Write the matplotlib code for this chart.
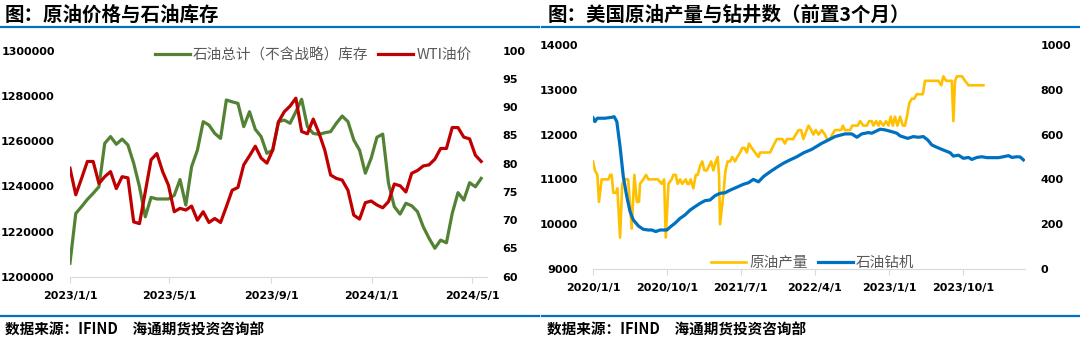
import pandas as pd
import matplotlib.pyplot as plt
from matplotlib.lines import Line2D
from matplotlib.ticker import FuncFormatter

plt.rcParams['font.family'] = ['Noto Sans CJK SC', 'DejaVu Sans']

# ---- left panel: weekly US commercial crude stocks vs WTI ----
inv_start = '2023-01-01'
inv = [1206000, 1228000, 1231000, 1234200, 1236900, 1239800, 1259000, 1262000, 1258600, 1260900,
       1258300, 1250200, 1239800, 1226500, 1235100, 1234400, 1234400, 1234400, 1236000, 1243000,
       1231700, 1248700, 1256000, 1268600, 1267100, 1263400, 1261200, 1278200, 1277400, 1276700,
       1266400, 1273000, 1265200, 1262000, 1254600, 1256000, 1268600, 1269300, 1267900, 1273000,
       1278500, 1266400, 1263400, 1263000, 1263700, 1264200, 1267900, 1271100, 1268600, 1260500,
       1256000, 1245800, 1252400, 1261700, 1263100, 1241300, 1231000, 1227700, 1232500, 1231400,
       1228800, 1222100, 1217000, 1212600, 1216200, 1215000, 1228000, 1237200, 1233900, 1241600,
       1239800, 1243500]
wti = [79.2, 74.5, 77.4, 80.4, 80.4, 76.5, 77.7, 78.6, 75.6, 77.7,
       77.5, 69.7, 69.4, 75.0, 80.7, 81.8, 78.6, 76.2, 71.5, 72.1,
       71.8, 72.5, 70.0, 71.5, 69.6, 70.3, 69.6, 72.4, 75.3, 75.8,
       79.8, 81.4, 83.1, 81.0, 80.1, 82.4, 87.4, 89.2, 90.2, 91.6,
       85.7, 85.3, 87.9, 85.4, 82.4, 78.0, 77.4, 77.1, 75.3, 70.9,
       70.2, 73.1, 73.4, 72.7, 72.2, 73.3, 76.4, 76.1, 75.0, 78.3,
       78.8, 79.6, 79.8, 80.8, 82.7, 82.7, 86.4, 86.4, 84.7, 84.4,
       81.5, 80.4]
left_ticks = ['2023-01-01', '2023-05-01', '2023-09-01', '2024-01-01', '2024-05-01']
left_ticklabels = ['2023/1/1', '2023/5/1', '2023/9/1', '2024/1/1', '2024/5/1']

# ---- right panel: US crude output vs oil rigs (rigs shifted 3 months) ----
prod_dates = ['2020-01-01', '2020-01-08', '2020-01-17', '2020-01-23', '2020-02-02', '2020-02-27',
              '2020-03-04', '2020-03-10', '2020-03-16', '2020-03-26', '2020-03-31', '2020-04-10',
              '2020-04-18', '2020-04-28', '2020-05-10', '2020-05-23', '2020-06-02', '2020-06-11',
              '2020-06-19', '2020-06-23', '2020-07-05', '2020-07-15', '2020-07-24', '2020-08-10',
              '2020-08-28', '2020-09-11', '2020-09-20', '2020-09-26', '2020-10-06', '2020-10-18',
              '2020-10-24', '2020-11-02', '2020-11-09', '2020-11-18', '2020-11-26', '2020-12-09',
              '2020-12-15', '2020-12-21', '2020-12-27',
              '2021-01-06', '2021-01-15', '2021-01-22', '2021-01-31', '2021-02-08', '2021-02-16',
              '2021-02-25', '2021-03-05', '2021-03-13', '2021-03-21', '2021-03-30', '2021-04-06',
              '2021-04-11', '2021-04-15', '2021-04-26', '2021-05-05', '2021-05-13', '2021-05-22',
              '2021-05-30', '2021-06-09', '2021-06-18', '2021-06-28', '2021-07-06', '2021-07-15',
              '2021-07-23', '2021-07-31', '2021-08-10', '2021-08-22', '2021-09-04', '2021-09-10',
              '2021-09-28', '2021-10-17', '2021-11-02', '2021-11-11', '2021-11-23', '2021-12-01',
              '2021-12-11', '2021-12-18', '2021-12-30',
              '2022-01-10', '2022-01-20', '2022-01-30', '2022-02-09', '2022-02-17', '2022-02-23',
              '2022-03-08', '2022-03-18', '2022-03-26', '2022-04-04', '2022-04-14', '2022-04-26',
              '2022-05-08', '2022-05-15', '2022-05-27', '2022-06-04', '2022-06-14', '2022-06-27',
              '2022-07-07', '2022-07-13', '2022-07-21', '2022-07-31', '2022-08-09', '2022-08-17',
              '2022-08-27', '2022-09-06', '2022-09-15', '2022-09-27', '2022-10-10', '2022-10-18',
              '2022-10-28', '2022-11-03', '2022-11-13', '2022-11-22', '2022-11-28', '2022-12-10',
              '2022-12-20', '2022-12-29',
              '2023-01-06', '2023-01-14', '2023-01-22', '2023-01-31', '2023-02-10', '2023-02-20',
              '2023-02-28', '2023-03-07', '2023-03-16', '2023-03-25', '2023-04-03', '2023-04-12',
              '2023-04-25', '2023-05-05', '2023-05-13', '2023-05-26', '2023-06-19', '2023-07-02',
              '2023-07-12', '2023-07-20', '2023-07-30', '2023-08-06', '2023-08-14', '2023-08-20',
              '2023-08-26', '2023-09-01', '2023-09-08', '2023-09-27', '2023-10-08', '2023-10-21',
              '2023-11-07', '2023-11-26', '2023-12-15']
prod = [11400, 11200, 11100, 10500, 11000, 11000,
        11100, 11100, 10700, 10700, 10800, 9700,
        10900, 11000, 11000, 9900, 11100, 10500,
        10500, 10900, 11000, 11100, 11000, 11000,
        11000, 10900, 11000, 9700, 10900, 11000,
        11100, 11100, 10900, 11000, 10900, 11000,
        10900, 10900, 11000,
        10800, 11100, 11100, 11300, 11400, 11200,
        11200, 11300, 11400, 11200, 11400, 11500,
        11100, 10000, 10600, 11200, 11400, 11400,
        11500, 11400, 11500, 11600, 11700, 11700,
        11600, 11800, 11700, 11600, 11500, 11600,
        11600, 11600, 11800, 11900, 11900, 11900,
        11800, 11900, 11900,
        11900, 12000, 12100, 12100, 11900, 12000,
        12200, 12100, 12000, 12100, 12000, 12100,
        12000, 11900, 11900, 12000, 12100, 12100,
        12100, 12200, 12100, 12100, 12100, 12200,
        12200, 12200, 12300, 12200, 12200, 12300,
        12300, 12200, 12300, 12200, 12300, 12200,
        12300, 12200,
        12400, 12200, 12400, 12200, 12400, 12200,
        12200, 12400, 12700, 12800, 12800, 12900,
        12900, 12900, 13200, 13200, 13200, 13200,
        13100, 13300, 13200, 13200, 13200, 13200,
        12300, 13200, 13300, 13300, 13200, 13100,
        13100, 13100, 13100]
rig_dates = ['2020-01-01', '2020-01-08', '2020-01-17', '2020-02-14', '2020-03-10', '2020-03-19',
             '2020-03-29', '2020-04-10', '2020-04-22', '2020-05-05', '2020-05-17', '2020-05-29',
             '2020-06-17', '2020-07-05', '2020-07-24', '2020-08-06', '2020-08-20', '2020-09-05',
             '2020-09-30', '2020-10-14', '2020-10-30', '2020-11-18', '2020-12-06', '2020-12-25',
             '2021-01-12', '2021-01-31', '2021-02-18', '2021-03-09', '2021-03-27', '2021-04-15',
             '2021-05-03', '2021-05-22', '2021-06-16', '2021-07-10', '2021-07-29', '2021-08-16',
             '2021-09-04', '2021-09-22', '2021-10-17', '2021-11-11', '2021-12-05', '2021-12-30',
             '2022-01-24', '2022-02-17', '2022-03-20', '2022-04-26', '2022-05-21', '2022-06-14',
             '2022-07-21', '2022-08-15', '2022-09-03', '2022-09-21', '2022-10-16', '2022-10-28',
             '2022-11-28', '2022-12-16',
             '2023-01-10', '2023-01-29', '2023-02-10', '2023-03-10', '2023-03-31', '2023-04-18',
             '2023-05-07', '2023-05-23', '2023-06-07', '2023-06-26', '2023-07-20', '2023-08-14',
             '2023-08-26', '2023-09-14', '2023-10-02', '2023-10-21', '2023-11-02', '2023-11-21',
             '2023-12-09', '2023-12-28', '2024-02-09', '2024-02-27', '2024-03-17', '2024-03-29',
             '2024-04-17', '2024-04-29', '2024-05-11']
rigs = [675, 658, 673, 673, 677, 680,
        658, 546, 412, 323, 256, 219,
        192, 177, 174, 174, 167, 174,
        174, 189, 204, 226, 241, 263,
        278, 293, 305, 308, 327, 338,
        340, 352, 365, 378, 385, 400,
        389, 412, 434, 454, 472, 487,
        501, 518, 534, 561, 576, 591,
        603, 603, 588, 603, 609, 606,
        624, 621,
        613, 606, 594, 583, 591, 588,
        591, 576, 554, 543, 531, 519,
        504, 508, 494, 498, 489, 498,
        501, 497, 497, 501, 506, 498,
        501, 500, 487]
right_ticks = ['2020-01-01', '2020-10-01', '2021-07-01', '2022-04-01', '2023-01-01', '2023-10-01']
right_ticklabels = ['2020/1/1', '2020/10/1', '2021/7/1', '2022/4/1', '2023/1/1', '2023/10/1']

plain = FuncFormatter(lambda v, p: '%d' % v)


def style_ticks(ax_main, ax_twin, ticks, ticklabels):
    ax_main.set_xticks(pd.to_datetime(ticks))
    ax_main.set_xticklabels(ticklabels)
    for a in (ax_main, ax_twin):
        a.yaxis.set_major_formatter(plain)
        for s in a.spines.values():
            s.set_visible(False)
        a.tick_params(axis='y', length=0, pad=11, labelsize=8)
        for lab in a.get_yticklabels() + a.get_xticklabels():
            lab.set_fontfamily('DejaVu Sans')
            lab.set_fontweight('bold')
    ax_main.spines['bottom'].set_visible(True)
    ax_main.spines['bottom'].set_color('#D9D9D9')
    ax_main.tick_params(axis='x', length=4, color='#D9D9D9', pad=6, labelsize=8)
    ax_main.patch.set_alpha(0)


fig = plt.figure(figsize=(10.8, 3.42), dpi=100)

ax1 = fig.add_axes([0.0648, 0.1909, 0.3861, 0.6608])
weeks = pd.date_range(inv_start, periods=len(inv), freq='7D')
l1, = ax1.plot(weeks, inv, color='#548235', lw=2.3, label='石油总计（不含战略）库存')
ax1.set_ylim(1200000, 1300000)
ax1.set_yticks(range(1200000, 1300001, 20000))
ax1.set_xlim(pd.Timestamp('2023-01-01'), pd.Timestamp('2024-05-19'))
ax1b = ax1.twinx()
l2, = ax1b.plot(weeks, wti, color='#C00000', lw=2.3, label='WTI油价')
ax1b.set_ylim(60, 100)
ax1b.set_yticks(range(60, 101, 5))
style_ticks(ax1, ax1b, left_ticks, left_ticklabels)
ax1b.legend(handles=[l1, l2], loc='center', bbox_to_anchor=(313 / 1080, 1 - 55 / 342),
            bbox_transform=fig.transFigure, ncol=2, frameon=False, fontsize=10.5,
            handlelength=2.4, handletextpad=0.2, columnspacing=0.7, labelcolor='#595959')

ax2 = fig.add_axes([0.5491, 0.2135, 0.4, 0.655])
l3, = ax2.plot(pd.to_datetime(prod_dates), prod, color='#FFC000', lw=1.9, label='原油产量')
ax2.set_ylim(9000, 14000)
ax2.set_yticks(range(9000, 14001, 1000))
ax2.set_xlim(pd.Timestamp('2020-01-01'), pd.Timestamp('2024-05-17'))
ax2b = ax2.twinx()
l4, = ax2b.plot(pd.to_datetime(rig_dates), rigs, color='#0070C0', lw=2.3, label='石油钻机')
ax2b.set_ylim(0, 1000)
ax2b.set_yticks(range(0, 1001, 200))
style_ticks(ax2, ax2b, right_ticks, right_ticklabels)
ax2b.legend(handles=[l3, l4], loc='center', bbox_to_anchor=(813 / 1080, 1 - 263 / 342),
            bbox_transform=fig.transFigure, ncol=2, frameon=False, fontsize=10.5,
            handlelength=2.4, handletextpad=0.2, columnspacing=0.7, labelcolor='#595959')

# titles, rules and source notes
for x0, x1, title in [(0.0, 0.499, '图：原油价格与石油库存'),
                      (0.502, 1.0, '图：美国原油产量与钻井数（前置3个月）')]:
    fig.text(x0 + 5 / 1080, 1 - 15 / 342, title, fontsize=14, fontweight='bold',
             ha='left', va='center')
    fig.add_artist(Line2D([x0, x1], [1 - 27 / 342] * 2, color='#0070C0', lw=1.6))
    fig.add_artist(Line2D([x0, x1], [1 - 315.5 / 342] * 2, color='#0070C0', lw=1.6))
    fig.text(x0 + 5 / 1080, 1 - 330 / 342, '数据来源：IFIND\u3000海通期货投资咨询部',
             fontsize=10.5, fontweight='bold', ha='left', va='center')

fig.savefig('out.png', dpi=100)
